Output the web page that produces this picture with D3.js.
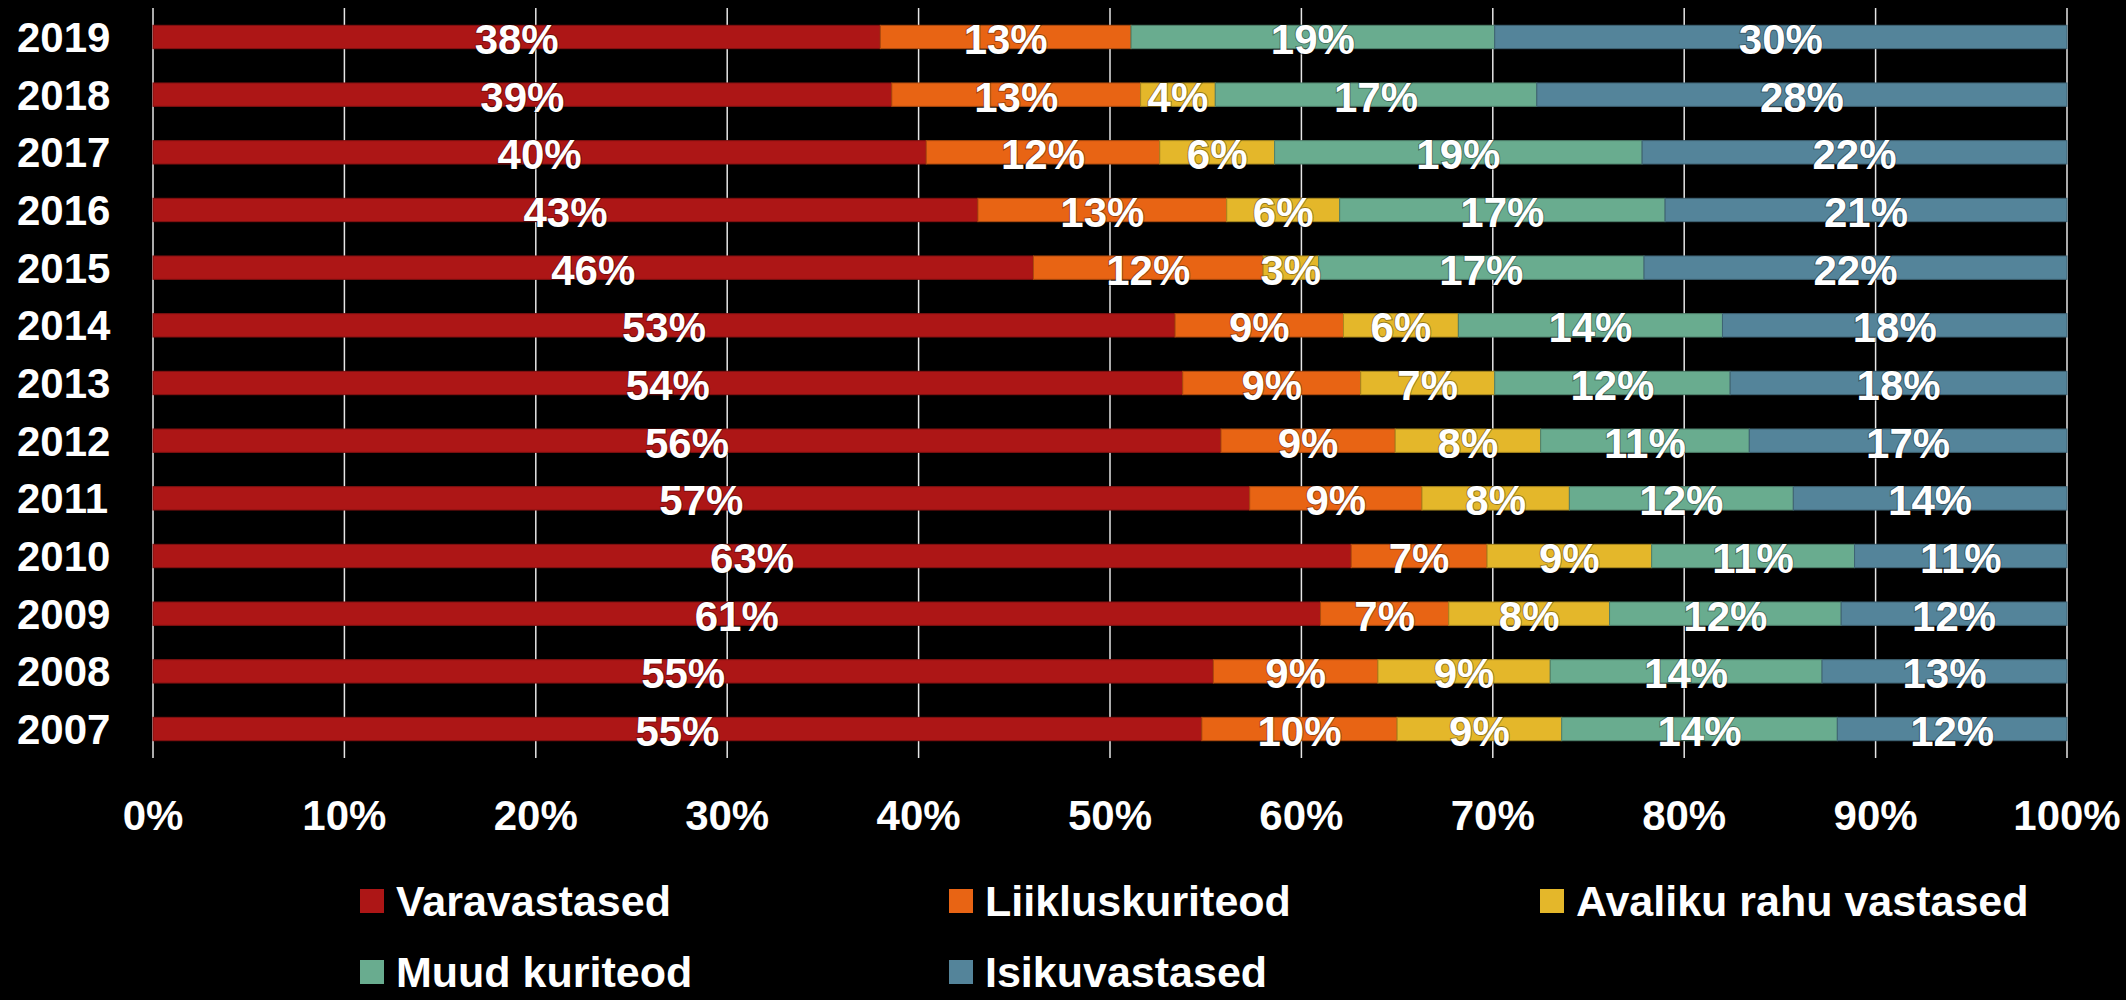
<!DOCTYPE html>
<html>
<head>
<meta charset="utf-8">
<script src="https://cdn.jsdelivr.net/npm/d3@7"></script>
<style>
  body { margin: 0; background: #000; }
  svg text { font-family: "Liberation Sans", Arial, sans-serif; font-weight: bold; fill: #fff; }
</style>
</head>
<body>
<svg id="chart" width="2126" height="1000"></svg>
<script>
// years top to bottom, as in the picture
var years = ["2019", "2018", "2017", "2016", "2015", "2014", "2013", "2012", "2011", "2010", "2009", "2008", "2007"];
var seriesNames = ["Varavastased", "Liikluskuriteod", "Avaliku rahu vastased", "Muud kuriteod", "Isikuvastased"];
var seriesColors = ["#ad1616", "#e86414", "#e4b72a", "#69ac8f", "#54849a"];

// shares (%) per series, same order as years
var varavastased   = [38.0, 38.6, 40.4, 43.1, 46.0, 53.4, 53.8, 55.8, 57.3, 62.6, 61.0, 55.4, 54.8];
var liiklus        = [13.1, 13.0, 12.2, 13.0, 12.0,  8.8,  9.3,  9.1,  9.0,  7.1,  6.7,  8.6, 10.2];
var avalikuRahu    = [ 0.0,  3.9,  6.0,  5.9,  2.9,  6.0,  7.0,  7.6,  7.7,  8.6,  8.4,  9.0,  8.6];
var muudKuriteod   = [19.0, 16.8, 19.2, 17.0, 17.0, 13.8, 12.3, 10.9, 11.7, 10.6, 12.1, 14.2, 14.4];
var isikuvastased  = [29.9, 27.7, 22.2, 21.0, 22.1, 18.0, 17.6, 16.6, 14.3, 11.1, 11.8, 12.8, 12.0];

var xTicks = [0, 10, 20, 30, 40, 50, 60, 70, 80, 90, 100];

var allSeries = [varavastased, liiklus, avalikuRahu, muudKuriteod, isikuvastased];
var rows = years.map(function (yr, i) {
    var r = {year: yr};
    seriesNames.forEach(function (n, k) { r[n] = allSeries[k][i]; });
    return r;
});

var svg = d3.select("#chart");
var plotLeft = 153, plotRight = 2067, plotTop = 8, plotBottom = 758;

var x = d3.scaleLinear().domain([0, 100]).range([plotLeft, plotRight]);
var y = d3.scaleBand().domain(years).range([plotTop, plotBottom]).paddingInner(0.595).paddingOuter(0.3);
var color = d3.scaleOrdinal().domain(seriesNames).range(seriesColors);

// vertical gridlines
svg.append("g").selectAll("line").data(xTicks).enter().append("line")
    .attr("x1", function (d) { return x(d); })
    .attr("x2", function (d) { return x(d); })
    .attr("y1", plotTop).attr("y2", plotBottom)
    .attr("stroke", "#e6e6e6").attr("stroke-width", 1.5);

var stacked = d3.stack().keys(seriesNames)(rows);

var layers = svg.append("g").selectAll("g").data(stacked).enter().append("g")
    .attr("fill", function (d) { return color(d.key); })
    .attr("stroke", function (d) { return d3.color(color(d.key)).darker(0.8); })
    .attr("stroke-width", 1);

layers.selectAll("rect").data(function (d) { return d.filter(function (s) { return s[1] - s[0] > 0; }); })
    .enter().append("rect")
    .attr("x", function (d) { return x(d[0]); })
    .attr("width", function (d) { return x(d[1]) - x(d[0]); })
    .attr("y", function (d) { return y(d.data.year); })
    .attr("height", y.bandwidth());

// value labels
var labels = svg.append("g");
stacked.forEach(function (layer) {
    layer.forEach(function (d) {
        var v = d[1] - d[0];
        if (v <= 0) return;
        labels.append("text")
            .attr("x", x((d[0] + d[1]) / 2))
            .attr("y", y(d.data.year) + y.bandwidth() / 2 + 17)
            .attr("text-anchor", "middle")
            .style("font-size", "42px")
            .style("paint-order", "stroke")
            .style("stroke", "rgba(0,0,0,0.35)")
            .style("stroke-width", "2px")
            .text(Math.round(v) + "%");
    });
});

// year axis
svg.append("g").selectAll("text").data(years).enter().append("text")
    .attr("x", 17)
    .attr("y", function (d) { return y(d) + y.bandwidth() / 2 + 15; })
    .style("font-size", "42px")
    .text(function (d) { return d; });

// percent axis
svg.append("g").selectAll("text").data(xTicks).enter().append("text")
    .attr("x", function (d) { return x(d); })
    .attr("y", 830)
    .attr("text-anchor", "middle")
    .style("font-size", "42px")
    .text(function (d) { return d + "%"; });

// legend
var legendPos = [[360, 889], [949, 889], [1540, 889], [360, 960], [949, 960]];
var legend = svg.append("g").selectAll("g").data(seriesNames).enter().append("g")
    .attr("transform", function (d, i) { return "translate(" + legendPos[i][0] + "," + legendPos[i][1] + ")"; });
legend.append("rect").attr("width", 24).attr("height", 24)
    .attr("fill", function (d) { return color(d); });
legend.append("text").attr("x", 36).attr("y", 27)
    .style("font-size", "43px")
    .text(function (d) { return d; });
</script>
</body>
</html>
